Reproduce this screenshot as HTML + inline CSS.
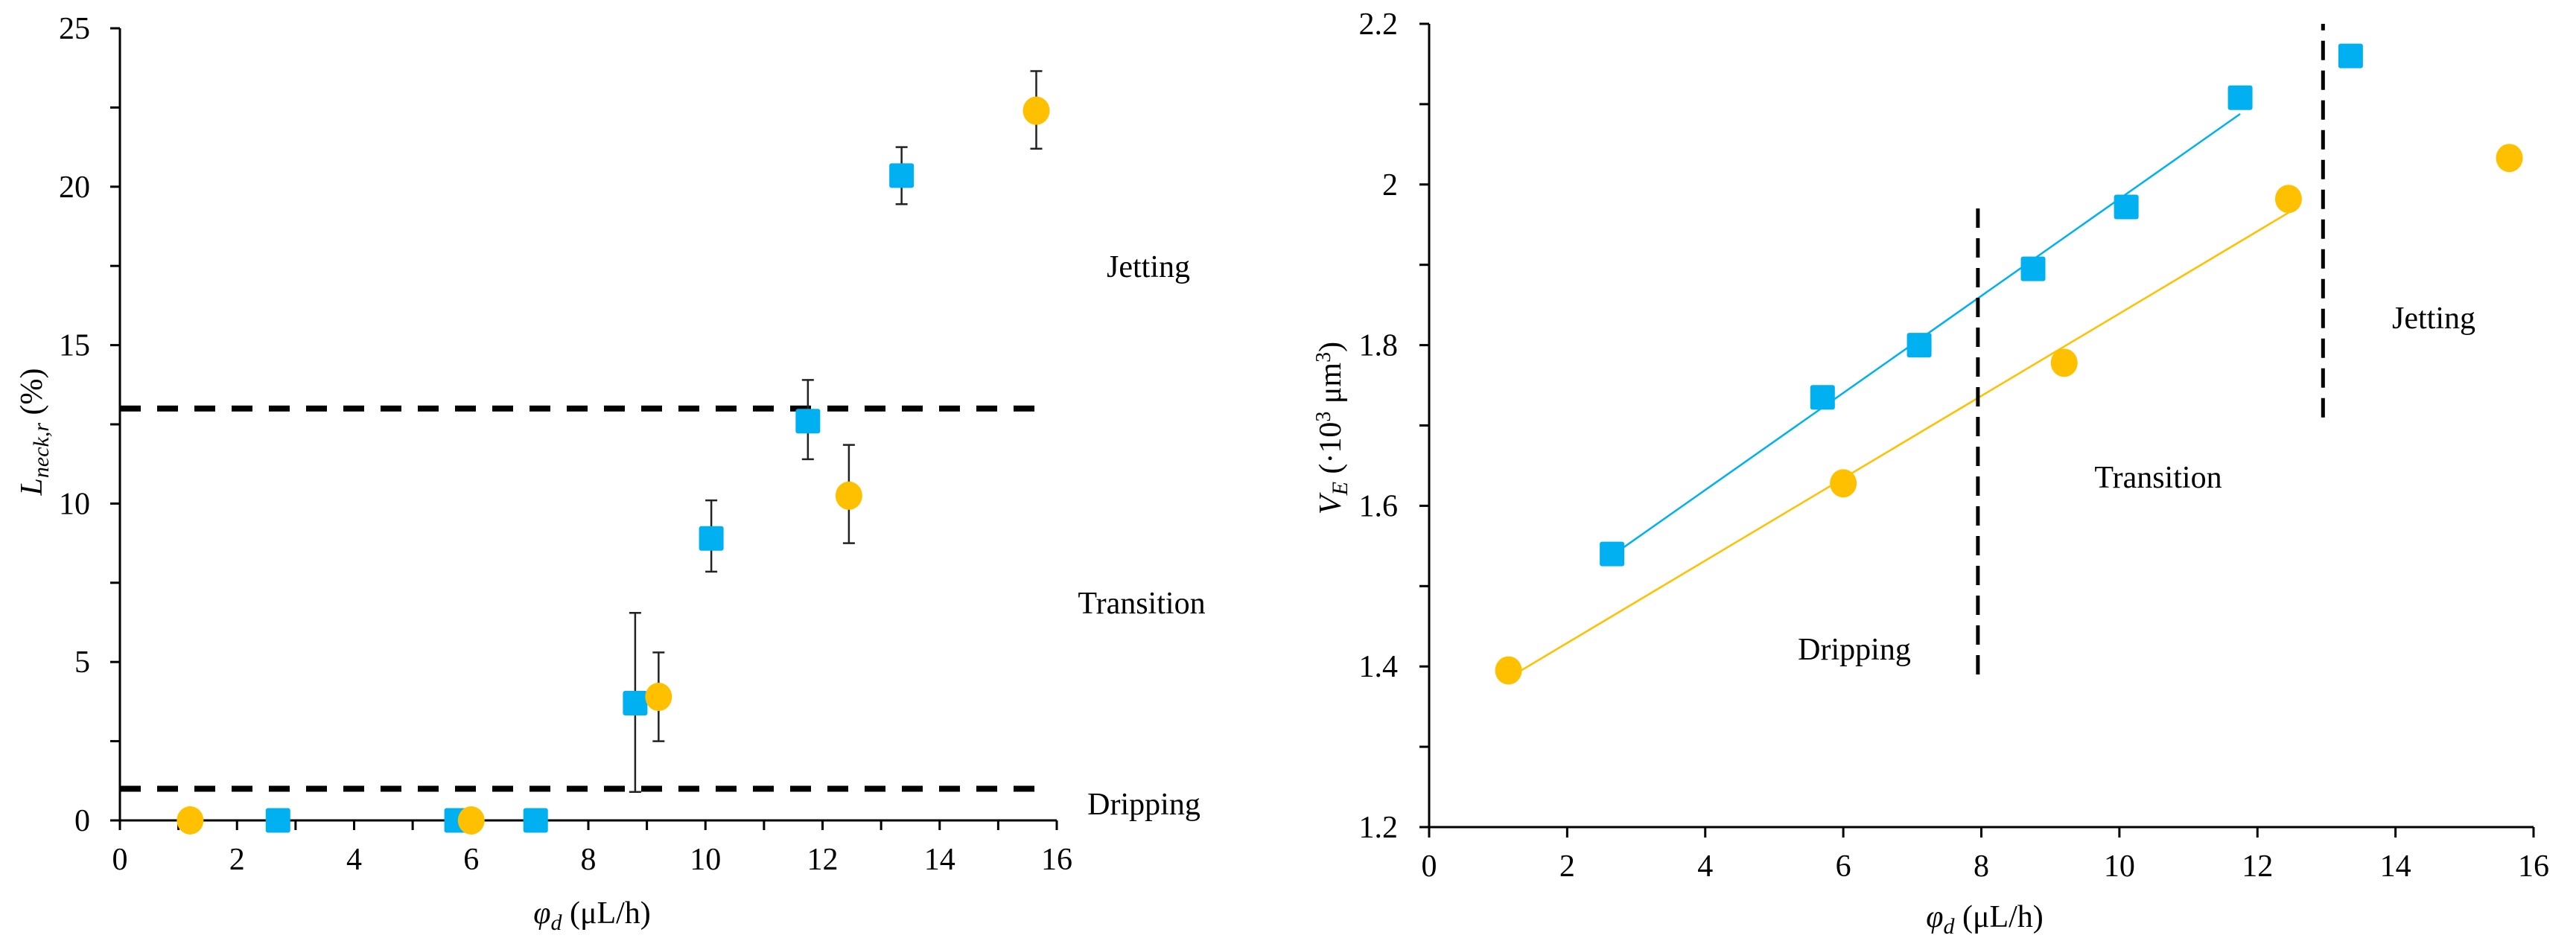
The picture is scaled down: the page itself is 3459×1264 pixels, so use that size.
<!DOCTYPE html>
<html><head><meta charset="utf-8"><style>
html,body{margin:0;padding:0;background:#fff;}
svg{display:block;font-family:"Liberation Serif","Times New Roman",serif;}
</style></head><body>
<svg id="chart" width="3459" height="1264" viewBox="0 0 3459 1264"></svg>
<script>
// ---- Left chart data ----
const leftXTicks = [0,2,4,6,8,10,12,14,16];
const leftYTicks = [0,5,10,15,20,25];
const leftOrangeX = [1.2, 6.0, 9.2, 12.45, 15.65];
const leftOrangeY = [0, 0, 3.9, 10.25, 22.4];
const leftOrangeLo = [null, null, 2.5, 8.75, 21.2];
const leftOrangeHi = [null, null, 5.3, 11.85, 23.65];
const leftBlueX = [2.7, 5.75, 7.1, 8.8, 10.1, 11.75, 13.35];
const leftBlueY = [0, 0, 0, 3.7, 8.9, 12.6, 20.35];
const leftBlueLo = [null, null, null, 0.9, 7.85, 11.4, 19.45];
const leftBlueHi = [null, null, null, 6.55, 10.1, 13.9, 21.25];
const leftThresholds = [1, 13];
// ---- Right chart data ----
const rightXTicks = [0,2,4,6,8,10,12,14,16];
const rightYTicks = [1.2,1.4,1.6,1.8,2.0,2.2];
const rightYTickLabels = ["1.2","1.4","1.6","1.8","2","2.2"];
const rightBlueX = [2.65, 5.7, 7.1, 8.75, 10.1, 11.75, 13.35];
const rightBlueY = [1.54, 1.735, 1.80, 1.895, 1.972, 2.108, 2.16];
const rightOrangeX = [1.15, 6.0, 9.2, 12.45, 15.65];
const rightOrangeY = [1.395, 1.628, 1.778, 1.982, 2.033];
const rightBlueFitCount = 6;
const rightOrangeFitCount = 4;
const rightBoundX = [7.95, 12.95];
const rightBoundYLo = [1.39, 1.71];
const rightBoundYHi = [1.98, 2.2];

const NS = "http://www.w3.org/2000/svg";
const svg = document.getElementById('chart');
function el(tag, attrs, parent, text){
  const e = document.createElementNS(NS, tag);
  for (const k in attrs) e.setAttribute(k, attrs[k]);
  if (text !== undefined) e.textContent = text;
  (parent||svg).appendChild(e);
  return e;
}
const ORANGE = "#FFC000", BLUE = "#00B0F0";

// ===== LEFT CHART =====
const L = {x0:161, x1:1419, y0:1102, y1:38, xmin:0, xmax:16, ymin:0, ymax:25};
const lx = v => L.x0 + (v-L.xmin)/(L.xmax-L.xmin)*(L.x1-L.x0);
const ly = v => L.y0 - (v-L.ymin)/(L.ymax-L.ymin)*(L.y0-L.y1);
const gL = el('g', {}, svg);



const lAxes = el('g', {stroke:'#000','stroke-width':3}, gL);


el('line', {x1:lx(0), y1:ly(0), x2:lx(16), y2:ly(0)}, lAxes);
el('line', {x1:lx(0), y1:ly(0)+12, x2:lx(0), y2:ly(25)}, lAxes);
for (let v=0; v<=16; v++){
  el('line', {x1:lx(v), y1:ly(0), x2:lx(v), y2:ly(0)+13}, lAxes);
}
for (let v=0; v<=25; v+=2.5){
  el('line', {x1:lx(0)-13, y1:ly(v), x2:lx(0), y2:ly(v)}, lAxes);
}
leftXTicks.forEach(v=>{
  const t = el('text', {x:lx(v), y:1168, 'font-size':42, 'text-anchor':'middle'}, gL, String(v));
  
  
});
leftYTicks.forEach(v=>{
  const t = el('text', {x:121, y:ly(v)+14, 'font-size':42, 'text-anchor':'end'}, gL, String(v));
  
  
});
leftThresholds.forEach(v=>{
  const d = el('line', {x1:lx(0), y1:ly(v), x2:lx(15.8), y2:ly(v), stroke:'#000', 'stroke-width':8, 'stroke-dasharray':'28 22'}, gL);
  
  
});
function errBar(parent, x, lo, hi){
  const g = el('g', {stroke:'#222','stroke-width':2.5}, parent);
  el('line', {x1:x, y1:lo, x2:x, y2:hi}, g);
  el('line', {x1:x-8, y1:lo, x2:x+8, y2:lo}, g);
  el('line', {x1:x-8, y1:hi, x2:x+8, y2:hi}, g);
  return g;
}
leftBlueX.forEach((x,i)=>{
  if (leftBlueLo[i]!==null){
    const e = errBar(gL, lx(x), ly(leftBlueLo[i]), ly(leftBlueHi[i]));
    
    
  }
});
leftOrangeX.forEach((x,i)=>{
  if (leftOrangeLo[i]!==null){
    const e = errBar(gL, lx(x), ly(leftOrangeLo[i]), ly(leftOrangeHi[i]));
    
    
  }
});
leftBlueX.forEach((x,i)=>{
  const r = el('rect', {x:lx(x)-16.5, y:ly(leftBlueY[i])-16.5, width:33, height:33, rx:3, fill:BLUE}, gL);
  
  
});
leftOrangeX.forEach((x,i)=>{
  const c = el('ellipse', {cx:lx(x), cy:ly(leftOrangeY[i]), rx:18, ry:19, fill:ORANGE}, gL);
  
  
});
[["Jetting",1542,372],["Transition",1533,824],["Dripping",1536,1094]].forEach(a=>{
  const t = el('text', {x:a[1], y:a[2], 'font-size':42, 'text-anchor':'middle'}, gL, a[0]);
  
  
});
const lyt = el('text', {transform:'translate(56,580) rotate(-90)', 'font-size':42, 'text-anchor':'middle'}, gL);


el('tspan', {'font-style':'italic'}, lyt, 'L');
el('tspan', {'font-style':'italic','font-size':30, dy:9}, lyt, 'neck,r');
el('tspan', {dy:-9}, lyt, ' (%)');
const lxt = el('text', {x:795, y:1240, 'font-size':42, 'text-anchor':'middle'}, gL);


el('tspan', {'font-style':'italic'}, lxt, 'φ');
el('tspan', {'font-style':'italic','font-size':30, dy:9}, lxt, 'd');
el('tspan', {dy:-9}, lxt, ' (μL/h)');

// ===== RIGHT CHART =====
const R = {x0:1919, x1:3402, y0:1111, y1:32, xmin:0, xmax:16, ymin:1.2, ymax:2.2};
const rx = v => R.x0 + (v-R.xmin)/(R.xmax-R.xmin)*(R.x1-R.x0);
const ry = v => R.y0 - (v-R.ymin)/(R.ymax-R.ymin)*(R.y0-R.y1);
const gR = el('g', {}, svg);


const rAxes = el('g', {stroke:'#000','stroke-width':3}, gR);


el('line', {x1:rx(0), y1:ry(1.2), x2:rx(16), y2:ry(1.2)}, rAxes);
el('line', {x1:rx(0), y1:ry(1.2)+13, x2:rx(0), y2:ry(2.2)}, rAxes);
for (let v=0; v<=16; v+=2){
  el('line', {x1:rx(v), y1:ry(1.2), x2:rx(v), y2:ry(1.2)+14}, rAxes);
}
for (let k=0; k<=10; k++){
  const v = 1.2 + k*0.1;
  el('line', {x1:rx(0)-13, y1:ry(v), x2:rx(0), y2:ry(v)}, rAxes);
}
rightXTicks.forEach(v=>{
  const t = el('text', {x:rx(v), y:1177, 'font-size':42, 'text-anchor':'middle'}, gR, String(v));
  
  
});
rightYTicks.forEach((v,i)=>{
  const t = el('text', {x:1877, y:ry(v)+14, 'font-size':42, 'text-anchor':'end'}, gR, rightYTickLabels[i]);
  
  
});
function fit(xs, ys, n){
  let sx=0,sy=0,sxx=0,sxy=0;
  for (let i=0;i<n;i++){sx+=xs[i];sy+=ys[i];sxx+=xs[i]*xs[i];sxy+=xs[i]*ys[i];}
  const m=(n*sxy-sx*sy)/(n*sxx-sx*sx); const b=(sy-m*sx)/n;
  return [m,b];
}
const bf = fit(rightBlueX, rightBlueY, rightBlueFitCount);
const of = fit(rightOrangeX, rightOrangeY, rightOrangeFitCount);
const bxa = rightBlueX[0], bxb = rightBlueX[rightBlueFitCount-1];
const oxa = rightOrangeX[0], oxb = rightOrangeX[rightOrangeFitCount-1];
const bl = el('line', {x1:rx(bxa), y1:ry(bf[0]*bxa+bf[1]), x2:rx(bxb), y2:ry(bf[0]*bxb+bf[1]), stroke:BLUE, 'stroke-width':2.5}, gR);


const ol = el('line', {x1:rx(oxa), y1:ry(of[0]*oxa+of[1]), x2:rx(oxb), y2:ry(of[0]*oxb+of[1]), stroke:ORANGE, 'stroke-width':2.5}, gR);


rightBoundX.forEach((x,i)=>{
  const d = el('line', {x1:rx(x), y1:ry(rightBoundYLo[i]), x2:rx(x), y2:ry(rightBoundYHi[i]), stroke:'#000', 'stroke-width':5, 'stroke-dasharray':'26 14'}, gR);
  
  
});
rightBlueX.forEach((x,i)=>{
  const r = el('rect', {x:rx(x)-16.5, y:ry(rightBlueY[i])-16.5, width:33, height:33, rx:3, fill:BLUE}, gR);
  
  
});
rightOrangeX.forEach((x,i)=>{
  const c = el('ellipse', {cx:rx(x), cy:ry(rightOrangeY[i]), rx:18, ry:19, fill:ORANGE}, gR);
  
  
});
[["Jetting",3268,441],["Transition",2898,655],["Dripping",2490,886]].forEach(a=>{
  const t = el('text', {x:a[1], y:a[2], 'font-size':42, 'text-anchor':'middle'}, gR, a[0]);
  
  
});
const ryt = el('text', {transform:'translate(1800,575) rotate(-90)', 'font-size':42, 'text-anchor':'middle'}, gR);


el('tspan', {'font-style':'italic'}, ryt, 'V');
el('tspan', {'font-style':'italic','font-size':30, dy:9}, ryt, 'E');
el('tspan', {dy:-9}, ryt, ' (·10');
el('tspan', {'font-size':28, dy:-14}, ryt, '3');
el('tspan', {dy:14}, ryt, ' μm');
el('tspan', {'font-size':28, dy:-14}, ryt, '3');
el('tspan', {dy:14}, ryt, ')');
const rxt = el('text', {x:2665, y:1245, 'font-size':42, 'text-anchor':'middle'}, gR);


el('tspan', {'font-style':'italic'}, rxt, 'φ');
el('tspan', {'font-style':'italic','font-size':30, dy:9}, rxt, 'd');
el('tspan', {dy:-9}, rxt, ' (μL/h)');
</script>
</body></html>
